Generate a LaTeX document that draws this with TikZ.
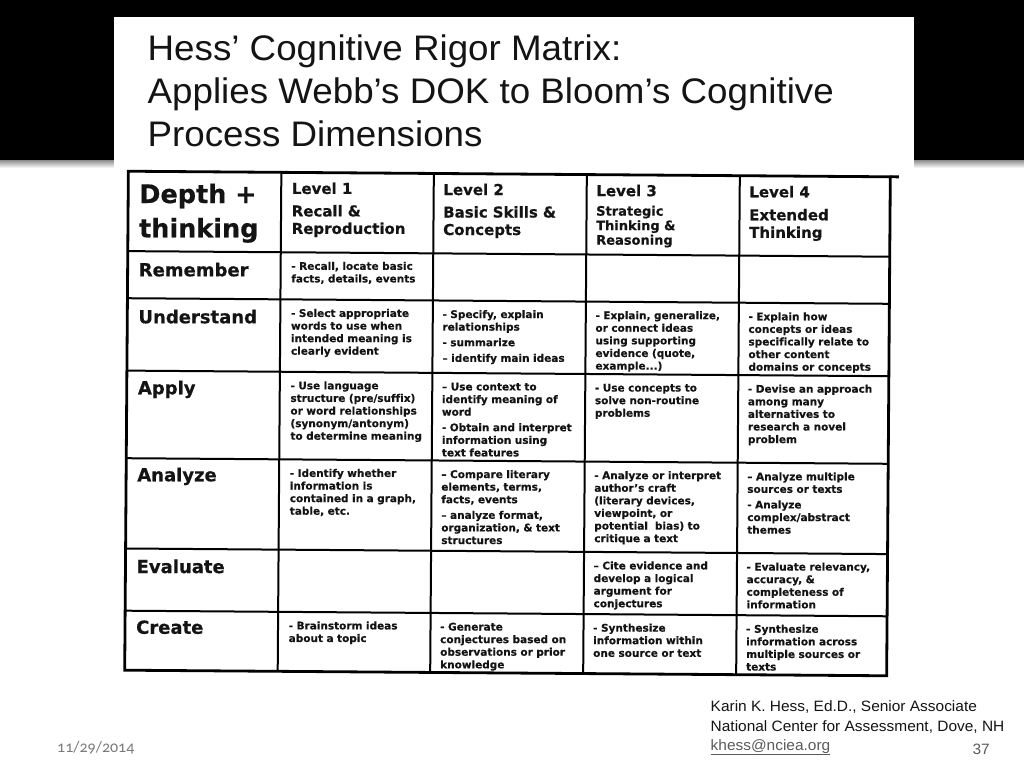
\documentclass[tikz,border=0pt]{standalone}
\usepackage{fontspec}
\setmainfont{DejaVu Sans}
\newfontfamily\titlefont[FakeStretch=1.035]{Liberation Sans}
\newfontfamily\tabfont[Ligatures=NoCommon, FakeBold=0.5]{DejaVu Sans}
\newfontfamily\cellfont[Ligatures=NoCommon, FakeBold=0.4]{DejaVu Sans}
\newfontfamily\footfont[FakeStretch=1.03]{Liberation Sans}
\newfontfamily\datefont[Numbers=OldStyle]{Carlito}
\definecolor{ink}{HTML}{141414}
\definecolor{datecol}{HTML}{7A7A7A}
\definecolor{mailcol}{HTML}{5A5A5A}
\tikzset{
  titletext/.style={anchor=base west, inner sep=0pt, text=ink, font=\titlefont\fontsize{35.5}{43}\selectfont},
  hdrbig/.style={anchor=base west, inner sep=0pt, text=ink, font=\tabfont\bfseries\fontsize{25.5}{30}\selectfont},
  hdrlevel/.style={anchor=base west, inner sep=0pt, text=ink, font=\tabfont\bfseries\fontsize{15}{18}\selectfont},
  hdrsub/.style={anchor=base west, inner sep=0pt, text=ink, text width=140pt, align=left, font=\tabfont\bfseries\fontsize{15}{17.5}\selectfont},
  hdrsubsmall/.style={anchor=base west, inner sep=0pt, text=ink, text width=140pt, align=left, font=\tabfont\bfseries\fontsize{13}{14.5}\selectfont},
  rowlabel/.style={anchor=base west, inner sep=0pt, text=ink, font=\tabfont\bfseries\fontsize{18}{22}\selectfont},
  celltext/.style={anchor=base west, inner sep=0pt, text=ink, text width=140pt, align=left, font=\cellfont\bfseries\fontsize{10.5}{12.6}\selectfont},
  gridline/.style={line width=2pt, draw=black},
  outerline/.style={line width=2.8pt, draw=black},
  foottext/.style={anchor=base west, inner sep=0pt, text=ink, font=\footfont\fontsize{15}{19}\selectfont},
}
\begin{document}
\begin{tikzpicture}[x=1pt, y=-1pt]
\useasboundingbox (0,0) rectangle (1024,768);
\fill[white] (0,0) rectangle (1024,768);
% black band and its shadow
\fill[black] (0,0) rectangle (1024,160);
\shade[top color=black!45, bottom color=white] (0,160) rectangle (1024,168);
% white card behind the title
\fill[white] (114,17) rectangle (914,175);

% title
\node[titletext] (t1) at (147.5,60) {Hess’ Cognitive Rigor Matrix:};
\node[titletext] (t2) at (147.5,103.3) {Applies Webb’s DOK to Bloom’s Cognitive};
\node[titletext] (t3) at (147.5,146.7) {Process Dimensions};

% table (slightly tilted as in the scan)
\begin{scope}[rotate around={-0.42:(508,424)}]
  \foreach \yy in {253.9,301,373.4,461,551.3,613.5}
    \draw[gridline] (126.5,\yy) -- (888.5,\yy);
  \foreach \xx in {279.5,432,585,738}
    \draw[gridline] (\xx,174) -- (\xx,673);
  \draw[outerline] (126.5,174) rectangle (888.5,673);
  \draw[outerline] (888.5,174) -- (897,174);

  % header row
  \node[hdrbig] (dep1) at (137.5,205.7) {Depth +};
  \node[hdrbig] (dep2) at (137.5,240) {thinking};
  \node[hdrlevel] (lv1) at (290,195.5) {Level 1};
  \node[hdrsub] (lv1s) at (290,218) {Recall \&\\Reproduction};
  \node[hdrlevel] (lv2) at (441.5,195.5) {Level 2};
  \node[hdrsub] (lv2s) at (441.5,218) {Basic Skills \&\\Concepts};
  \node[hdrlevel] (lv3) at (594.5,195.5) {Level 3};
  \node[hdrsubsmall] (lv3s) at (594.5,215) {Strategic\\Thinking \&\\Reasoning};
  \node[hdrlevel] (lv4) at (747.5,195.5) {Level 4};
  \node[hdrsub] (lv4s) at (747.5,218.5) {Extended\\Thinking};

  % row labels
  \node[rowlabel] (rRem) at (137.5,279) {Remember};
  \node[rowlabel] (rUnd) at (137.5,326) {Understand};
  \node[rowlabel] (rApp) at (137.5,397) {Apply};
  \node[rowlabel] (rAna) at (137.5,484) {Analyze};
  \node[rowlabel] (rEva) at (137.5,575.8) {Evaluate};
  \node[rowlabel] (rCre) at (137.5,636.5) {Create};

  % Remember
  \node[celltext] (c11) at (290,271.4) {- Recall, locate basic\\facts, details, events};
  % Understand
  \node[celltext] (c21) at (290,318.5) {- Select appropriate\\words to use when\\intended meaning is\\clearly evident};
  \node[celltext] (c22) at (441.5,318.5) {- Specify, explain\\relationships\\[3pt]- summarize\\[3pt]– identify main ideas};
  \node[celltext] (c23) at (594.5,318.5) {- Explain, generalize,\\or connect ideas\\using supporting\\evidence (quote,\\example...)};
  \node[celltext] (c24) at (747.5,318.5) {- Explain how\\concepts or ideas\\specifically relate to\\other content\\domains or concepts};
  % Apply
  \node[celltext] (c31) at (290,390.9) {- Use language\\structure (pre/suffix)\\or word relationships\\(synonym/antonym)\\to determine meaning};
  \node[celltext] (c32) at (441.5,390.9) {– Use context to\\identify meaning of\\word\\[3pt]- Obtain and interpret\\information using\\text features};
  \node[celltext] (c33) at (594.5,390.9) {- Use concepts to\\solve non-routine\\problems};
  \node[celltext] (c34) at (747.5,390.9) {- Devise an approach\\among many\\alternatives to\\research a novel\\problem};
  % Analyze
  \node[celltext] (c41) at (290,478.5) {- Identify whether\\information is\\contained in a graph,\\table, etc.};
  \node[celltext] (c42) at (441.5,478.5) {– Compare literary\\elements, terms,\\facts, events\\[3pt]– analyze format,\\organization, \& text\\structures};
  \node[celltext] (c43) at (594.5,478.5) {- Analyze or interpret\\author’s craft\\(literary devices,\\viewpoint, or\\potential\ \ bias) to\\critique a text};
  \node[celltext] (c44) at (747.5,478.5) {– Analyze multiple\\sources or texts\\[3pt]- Analyze\\complex/abstract\\themes};
  % Evaluate
  \node[celltext] (c53) at (594.5,568.8) {– Cite evidence and\\develop a logical\\argument for\\conjectures};
  \node[celltext] (c54) at (747.5,568.8) {- Evaluate relevancy,\\accuracy, \&\\completeness of\\information};
  % Create
  \node[celltext] (c61) at (290,631) {- Brainstorm ideas\\about a topic};
  \node[celltext] (c62) at (441.5,631) {- Generate\\conjectures based on\\observations or prior\\knowledge};
  \node[celltext] (c63) at (594.5,631) {- Synthesize\\information within\\one source or text};
  \node[celltext] (c64) at (747.5,631) {- Synthesize\\information across\\multiple sources or\\texts};
\end{scope}

% footer
\node[foottext] (f1) at (710.5,711.5) {Karin K. Hess, Ed.D., Senior Associate};
\node[foottext] (f2) at (710.5,731) {National Center for Assessment, Dove, NH};
\node[foottext, text=mailcol] (f3) at (710.5,750) {\underline{khess@nciea.org}};
\node[foottext, anchor=base east, text=mailcol] (pg) at (990,754) {37};
\node[anchor=base west, inner sep=0pt, text=datecol, font=\datefont\fontsize{16}{18}\selectfont] (dt) at (57,752) {11/29/2014};
\end{tikzpicture}
\end{document}
